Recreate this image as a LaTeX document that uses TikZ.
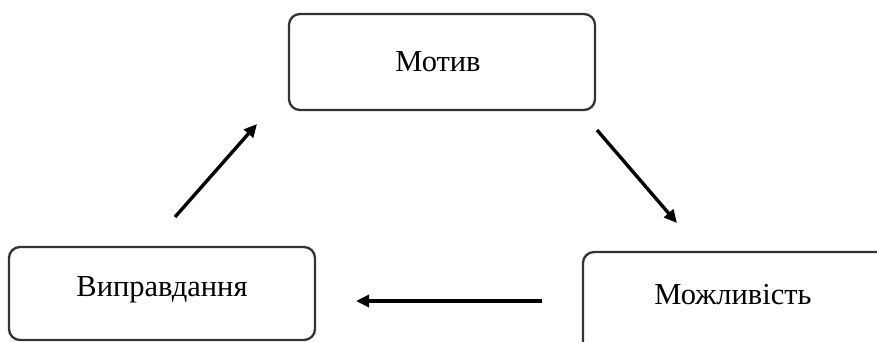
\documentclass[tikz,border=0pt]{standalone}
\usepackage{fontspec}
\setmainfont{Liberation Serif}
\usetikzlibrary{arrows.meta}
\begin{document}
\begin{tikzpicture}[x=1pt,y=1pt,
  box/.style={draw=black!80,line width=2.3pt,rounded corners=11pt,inner sep=0pt},
  lbl/.style={font=\fontsize{30.5}{33}\selectfont,inner sep=0pt},
  arr/.style={line width=3.4pt,-{Triangle[length=13pt,width=12pt]}}]
\useasboundingbox (0,0) rectangle (877,341);
\clip (0,0) rectangle (877,341);
\node[box,minimum width=306pt,minimum height=96pt] (top) at (442,279) {};
\node[lbl] (toptext) at (438,279) {Мотив};
\node[box,minimum width=306pt,minimum height=93pt] (left) at (162,47.5) {};
\node[lbl] (lefttext) at (162,51) {Виправдання};
\node[box,minimum width=310pt,minimum height=120pt] (right) at (738,29) {};
\node[lbl] (righttext) at (733,46) {Можливість};
\coordinate (a1s) at (175,124);
\coordinate (a1e) at (257,217);
\coordinate (a2s) at (597,211);
\coordinate (a2e) at (677,118);
\coordinate (a3s) at (542,40);
\coordinate (a3e) at (356,40);
\draw[arr] (a1s) -- (a1e);
\draw[arr] (a2s) -- (a2e);
\draw[arr] (a3s) -- (a3e);
\end{tikzpicture}
\end{document}
